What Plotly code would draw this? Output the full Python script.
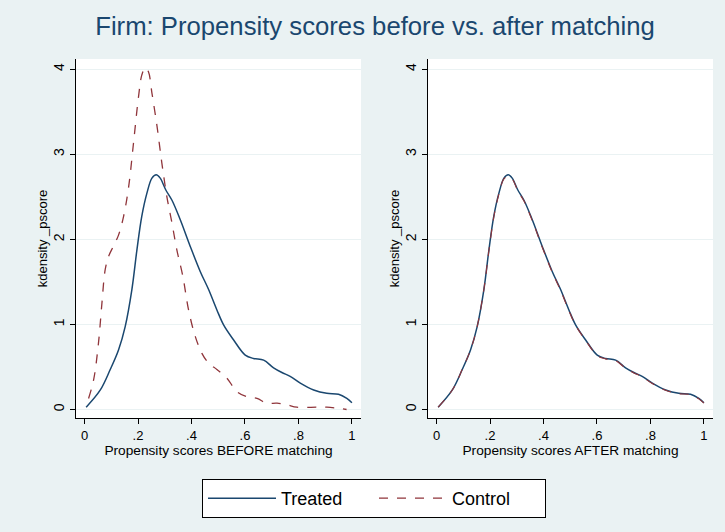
import plotly.graph_objects as go

# Before matching
treated_before_x = [0.006, 0.059, 0.096, 0.127, 0.152, 0.177, 0.196, 0.214, 0.233, 0.252, 0.268, 0.283, 0.304, 0.327, 0.358, 0.395, 0.433, 0.464, 0.495, 0.52, 0.557, 0.601, 0.632, 0.67, 0.707, 0.738, 0.769, 0.807, 0.857, 0.906, 0.95, 0.981, 1.0]
treated_before_y = [0.027, 0.23, 0.47, 0.70, 0.975, 1.41, 1.88, 2.27, 2.54, 2.72, 2.76, 2.72, 2.58, 2.46, 2.23, 1.92, 1.62, 1.41, 1.17, 0.995, 0.82, 0.64, 0.60, 0.58, 0.49, 0.435, 0.39, 0.31, 0.23, 0.19, 0.18, 0.13, 0.08]
control_before_x = [0.015, 0.034, 0.052, 0.065, 0.077, 0.09, 0.108, 0.127, 0.146, 0.165, 0.183, 0.202, 0.214, 0.227, 0.239, 0.252, 0.271, 0.289, 0.308, 0.327, 0.345, 0.368, 0.389, 0.414, 0.439, 0.464, 0.495, 0.532, 0.57, 0.607, 0.645, 0.682, 0.72, 0.757, 0.794, 0.869, 0.906, 0.944, 0.98]
control_before_y = [0.13, 0.35, 0.78, 1.25, 1.64, 1.80, 1.92, 2.05, 2.27, 2.62, 3.13, 3.68, 3.93, 4.02, 3.97, 3.72, 3.33, 2.90, 2.50, 2.19, 1.88, 1.56, 1.17, 0.86, 0.66, 0.545, 0.47, 0.37, 0.21, 0.15, 0.13, 0.074, 0.074, 0.055, 0.027, 0.027, 0.027, 0.016, 0.0]

# After matching
treated_after_x = [0.006, 0.059, 0.096, 0.127, 0.152, 0.177, 0.196, 0.214, 0.233, 0.252, 0.268, 0.283, 0.304, 0.327, 0.358, 0.395, 0.433, 0.464, 0.495, 0.52, 0.557, 0.601, 0.632, 0.67, 0.707, 0.738, 0.769, 0.807, 0.857, 0.906, 0.95, 0.981, 1.0]
treated_after_y = [0.027, 0.23, 0.47, 0.70, 0.975, 1.41, 1.88, 2.27, 2.54, 2.72, 2.76, 2.72, 2.58, 2.46, 2.23, 1.92, 1.62, 1.41, 1.17, 0.995, 0.82, 0.64, 0.60, 0.58, 0.49, 0.435, 0.39, 0.31, 0.23, 0.19, 0.18, 0.13, 0.08]
control_after_x = [0.006, 0.059, 0.096, 0.127, 0.152, 0.177, 0.196, 0.214, 0.233, 0.252, 0.268, 0.283, 0.304, 0.327, 0.358, 0.395, 0.433, 0.464, 0.495, 0.52, 0.557, 0.601, 0.632, 0.67, 0.707, 0.738, 0.769, 0.807, 0.857, 0.906, 0.95, 0.981, 1.0]
control_after_y = [0.027, 0.23, 0.47, 0.70, 0.975, 1.41, 1.87, 2.26, 2.53, 2.71, 2.74, 2.71, 2.57, 2.45, 2.22, 1.91, 1.61, 1.40, 1.16, 0.99, 0.815, 0.635, 0.595, 0.575, 0.485, 0.43, 0.385, 0.305, 0.225, 0.185, 0.175, 0.125, 0.075]

x_tickvals = [0, 0.2, 0.4, 0.6, 0.8, 1]
x_ticktext = ["0", ".2", ".4", ".6", ".8", "1"]
y_tickvals = [0, 1, 2, 3, 4]
y_ticktext = ["0", "1", "2", "3", "4"]

NAVY = "#1a476f"
MAROON = "#90353b"
BG = "#eaf2f3"
W, H = 725, 532

fig = go.Figure()
fig.add_trace(go.Scatter(x=treated_before_x, y=treated_before_y, mode="lines", name="Treated",
                         line=dict(color=NAVY, width=1.5, shape="spline"), xaxis="x", yaxis="y"))
fig.add_trace(go.Scatter(x=control_before_x, y=control_before_y, mode="lines", name="Control",
                         line=dict(color=MAROON, width=1.3, dash="dash", shape="spline"), xaxis="x", yaxis="y"))
fig.add_trace(go.Scatter(x=treated_after_x, y=treated_after_y, mode="lines", name="Treated", showlegend=False,
                         line=dict(color=NAVY, width=1.5, shape="spline"), xaxis="x2", yaxis="y2"))
fig.add_trace(go.Scatter(x=control_after_x, y=control_after_y, mode="lines", name="Control", showlegend=False,
                         line=dict(color=MAROON, width=1.1, dash="dash", shape="spline"), xaxis="x2", yaxis="y2"))

ydom = [(H - 418) / H, (H - 59) / H]
font_family = "Liberation Sans, Arial, sans-serif"

def xaxis_cfg(dom, title, anchor):
    return dict(domain=dom, range=[-0.032, 1.034], tickvals=x_tickvals, ticktext=x_ticktext,
                showline=True, linecolor="black", linewidth=1, ticks="outside", ticklen=5,
                tickcolor="black", showgrid=False, zeroline=False, anchor=anchor, automargin=False,
                tickfont=dict(size=13, color="black"),
                title=dict(text=title, font=dict(size=13.7, color="black"), standoff=0))

def yaxis_cfg(anchor):
    return dict(domain=ydom, range=[-0.1, 4.12], tickvals=y_tickvals, ticktext=y_ticktext,
                tickangle=-90, showline=True, linecolor="black", linewidth=1, ticks="outside",
                ticklen=5, tickcolor="black", showgrid=True, gridcolor=BG, gridwidth=1,
                zeroline=False, anchor=anchor, automargin=False, tickfont=dict(size=14, color="black"),
                title=dict(text="kdensity _pscore", font=dict(size=13, color="black"), standoff=0))

fig.update_layout(
    width=W, height=H,
    margin=dict(l=0, r=0, t=0, b=0, autoexpand=False),
    paper_bgcolor=BG, plot_bgcolor="white",
    font=dict(family=font_family, color="black"),
    title=dict(text="Firm: Propensity scores before vs. after matching", x=375 / W, xanchor="center",
               y=1 - 26 / H, yanchor="middle", font=dict(size=25.7, color=NAVY)),
    xaxis=xaxis_cfg([76 / W, 361 / W], "Propensity scores BEFORE matching", "y"),
    yaxis=yaxis_cfg("x"),
    xaxis2=xaxis_cfg([428 / W, 713 / W], "Propensity scores AFTER matching", "y2"),
    yaxis2=yaxis_cfg("x2"),
    showlegend=True,
    legend=dict(orientation="h", x=374 / W, xanchor="center", y=1 - 479 / H, yanchor="top",
                bgcolor="white", bordercolor="black", borderwidth=1,
                font=dict(size=18, color="black"), itemwidth=68, entrywidth=88,
                traceorder="normal"),
)

fig.write_html("out.html", config={"displayModeBar": False},
               post_script="document.body.style.margin='0';document.body.style.overflow='hidden';")
